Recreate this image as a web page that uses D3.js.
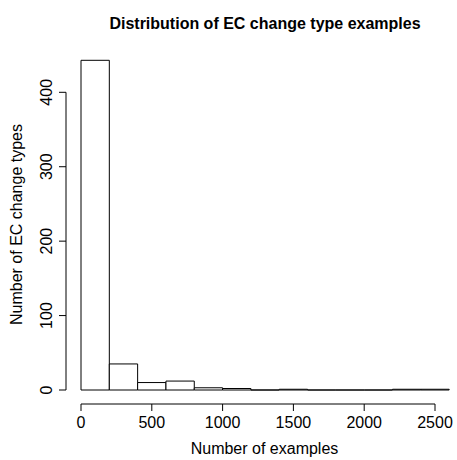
<!DOCTYPE html>
<html lang="en">
<head>
    <meta charset="UTF-8">
    <title>Histogram</title>
    <style>
        body{ margin:0; background:#fff; }
        svg{ display:block; }
        text{ font-family: "Liberation Sans", Arial, Helvetica, sans-serif; fill:#000; }
    </style>
    <script src="https://cdn.jsdelivr.net/npm/d3@7"></script>
</head>
<body>
<script>
    const width = 457
    const height = 460

    // histogram bins (width 200) and counts
    const binStarts = [0,200,400,600,800,1000,1200,1400,1600,1800,2000,2200,2400]
    const binWidth = 200
    const counts = [443,35,10,12,3,2,0,1,0,0,0,1,1]
    const xTicks = [0,500,1000,1500,2000,2500]
    const yTicks = [0,100,200,300,400]

    const svg = d3.select("body").append("svg")
        .attr("width", width)
        .attr("height", height)

    const x = d3.scaleLinear().domain([0,2500]).range([81,435])
    const y = d3.scaleLinear().domain([0,400]).range([390,92.3])

    // bars drawn as closed paths so empty bins still show as a line
    svg.selectAll(".bar")
        .data(binStarts)
        .enter()
        .append("path")
        .attr("class","bar")
        .attr("d", (d,i)=>{
            const x0 = x(d), x1 = x(d+binWidth)
            const y0 = y(0), y1 = y(counts[i])
            return `M${x0},${y0}V${y1}H${x1}V${y0}Z`
        })
        .attr("fill","white")
        .attr("stroke","black")
        .attr("stroke-width",1)

    // x axis (R style)
    const xAxisY = 404
    const gx = svg.append("g")
    gx.append("line")
        .attr("x1", x(xTicks[0])).attr("x2", x(xTicks[xTicks.length-1]))
        .attr("y1", xAxisY).attr("y2", xAxisY)
        .attr("stroke","black")
    gx.selectAll(".xt").data(xTicks).enter().append("line")
        .attr("x1", d=>x(d)).attr("x2", d=>x(d))
        .attr("y1", xAxisY).attr("y2", xAxisY+7)
        .attr("stroke","black")
    gx.selectAll(".xl").data(xTicks).enter().append("text")
        .attr("x", d=>x(d)).attr("y", 428)
        .attr("text-anchor","middle")
        .attr("font-size", 16)
        .text(d=>d)

    // y axis
    const yAxisX = 66
    const gy = svg.append("g")
    gy.append("line")
        .attr("x1", yAxisX).attr("x2", yAxisX)
        .attr("y1", y(yTicks[0])).attr("y2", y(yTicks[yTicks.length-1]))
        .attr("stroke","black")
    gy.selectAll(".yt").data(yTicks).enter().append("line")
        .attr("x1", yAxisX-7).attr("x2", yAxisX)
        .attr("y1", d=>y(d)).attr("y2", d=>y(d))
        .attr("stroke","black")
    gy.selectAll(".yl").data(yTicks).enter().append("text")
        .attr("transform", d=>`translate(52,${y(d)}) rotate(-90)`)
        .attr("text-anchor","middle")
        .attr("font-size", 16)
        .text(d=>d)

    // titles
    svg.append("text")
        .attr("x", 265).attr("y", 29)
        .attr("text-anchor","middle")
        .attr("font-size", 16)
        .attr("font-weight","bold")
        .text("Distribution of EC change type examples")

    svg.append("text")
        .attr("x", 264.5).attr("y", 454)
        .attr("text-anchor","middle")
        .attr("font-size", 16)
        .text("Number of examples")

    svg.append("text")
        .attr("transform", `translate(22,224.5) rotate(-90)`)
        .attr("text-anchor","middle")
        .attr("font-size", 16)
        .text("Number of EC change types")
</script>
</body>
</html>
